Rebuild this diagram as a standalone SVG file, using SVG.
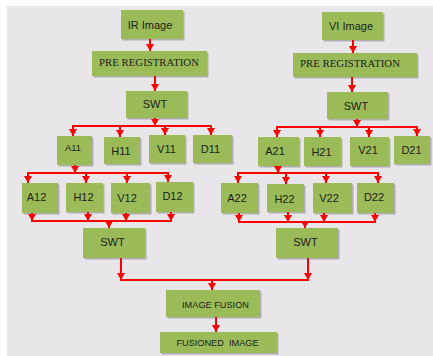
<svg xmlns="http://www.w3.org/2000/svg" width="433" height="356" viewBox="0 0 433 356">
<defs>
<style>
.bx{fill:#9bbb59;}
.sh{fill:#b0aeb2;}
.t{font-family:"Liberation Sans",Arial,sans-serif;font-size:11px;fill:#1c1c1c;text-anchor:middle;}
.s{font-size:9.5px;}
.f{font-size:9.2px;white-space:pre;}
.tr{font-family:"Liberation Serif","Times New Roman",serif;font-size:10.8px;fill:#1c1c1c;text-anchor:middle;}
.c line,.c path{stroke:#ff0000;stroke-width:2;fill:none;}
.a{marker-end:url(#ah);}
</style>
<marker id="ah" markerUnits="userSpaceOnUse" markerWidth="7" markerHeight="8" viewBox="0 0 7 8" refX="7" refY="4" orient="auto">
<path d="M0,0 L7,4 L0,8 Z" fill="#ff0000"/>
</marker>
</defs>
<rect x="7" y="6" width="426" height="350" fill="#e8e6e9"/>

<g id="ir"><rect class="sh" x="122.5" y="11.5" width="62" height="29"/><rect class="bx" x="121" y="10" width="62" height="29"/><text class="t" x="150" y="28.5">IR Image</text></g>
<g id="preL"><rect class="sh" x="93.5" y="52.5" width="115" height="25"/><rect class="bx" x="92" y="51" width="115" height="25"/><text class="tr" x="149" y="66">PRE REGISTRATION</text></g>
<g id="swtL1"><rect class="sh" x="127.5" y="92.5" width="61" height="27"/><rect class="bx" x="126" y="91" width="61" height="27"/><text class="t" x="155" y="108">SWT</text></g>

<g id="vi"><rect class="sh" x="323.5" y="13.5" width="61" height="28"/><rect class="bx" x="322" y="12" width="61" height="28"/><text class="t" x="351" y="30">VI Image</text></g>
<g id="preR"><rect class="sh" x="294.5" y="54.5" width="124" height="24"/><rect class="bx" x="293" y="53" width="124" height="24"/><text class="tr" x="350" y="67">PRE REGISTRATION</text></g>
<g id="swtR1"><rect class="sh" x="328.5" y="93.5" width="61" height="27"/><rect class="bx" x="327" y="92" width="61" height="27"/><text class="t" x="356" y="110">SWT</text></g>

<g id="a11"><rect class="sh" x="58.5" y="137.5" width="35" height="29"/><rect class="bx" x="57" y="136" width="35" height="29"/><text class="t s" x="73" y="151">A11</text></g>
<g id="h11"><rect class="sh" x="105.5" y="138.5" width="36" height="27"/><rect class="bx" x="104" y="137" width="36" height="27"/><text class="t" x="121" y="155">H11</text></g>
<g id="v11"><rect class="sh" x="150.5" y="136.5" width="36" height="28"/><rect class="bx" x="149" y="135" width="36" height="28"/><text class="t" x="166.5" y="153">V11</text></g>
<g id="d11"><rect class="sh" x="194.5" y="136.5" width="39" height="28"/><rect class="bx" x="193" y="135" width="39" height="28"/><text class="t" x="210.5" y="153">D11</text></g>

<g id="a12"><rect class="sh" x="23.5" y="184.5" width="36" height="30"/><rect class="bx" x="22" y="183" width="36" height="30"/><text class="t" x="36.5" y="201">A12</text></g>
<g id="h12"><rect class="sh" x="67.5" y="184.5" width="37" height="29"/><rect class="bx" x="66" y="183" width="37" height="29"/><text class="t" x="83.5" y="201">H12</text></g>
<g id="v12"><rect class="sh" x="112.5" y="184.5" width="39" height="30"/><rect class="bx" x="111" y="183" width="39" height="30"/><text class="t" x="127" y="202">V12</text></g>
<g id="d12"><rect class="sh" x="157.5" y="183.5" width="37" height="30"/><rect class="bx" x="156" y="182" width="37" height="30"/><text class="t" x="172.5" y="200">D12</text></g>

<g id="a21"><rect class="sh" x="259.5" y="138.5" width="41" height="29"/><rect class="bx" x="258" y="137" width="41" height="29"/><text class="t" x="275" y="155">A21</text></g>
<g id="h21"><rect class="sh" x="305.5" y="138.5" width="37" height="29"/><rect class="bx" x="304" y="137" width="37" height="29"/><text class="t" x="321.5" y="156">H21</text></g>
<g id="v21"><rect class="sh" x="351.5" y="138.5" width="39" height="29"/><rect class="bx" x="350" y="137" width="39" height="29"/><text class="t" x="368" y="154">V21</text></g>
<g id="d21"><rect class="sh" x="395.5" y="137.5" width="36" height="28"/><rect class="bx" x="394" y="136" width="36" height="28"/><text class="t" x="411.5" y="154">D21</text></g>

<g id="a22"><rect class="sh" x="222.5" y="184.5" width="37" height="30"/><rect class="bx" x="221" y="183" width="37" height="30"/><text class="t" x="237" y="202">A22</text></g>
<g id="h22"><rect class="sh" x="268.5" y="185.5" width="37" height="28"/><rect class="bx" x="267" y="184" width="37" height="28"/><text class="t" x="284.5" y="203">H22</text></g>
<g id="v22"><rect class="sh" x="314.5" y="184.5" width="39" height="30"/><rect class="bx" x="313" y="183" width="39" height="30"/><text class="t" x="329" y="202">V22</text></g>
<g id="d22"><rect class="sh" x="358.5" y="184.5" width="37" height="30"/><rect class="bx" x="357" y="183" width="37" height="30"/><text class="t" x="374" y="201">D22</text></g>

<g id="swtL2"><rect class="sh" x="84.5" y="229.5" width="62" height="30"/><rect class="bx" x="83" y="228" width="62" height="30"/><text class="t" x="112.5" y="246">SWT</text></g>
<g id="swtR2"><rect class="sh" x="277.5" y="229.5" width="62" height="30"/><rect class="bx" x="276" y="228" width="62" height="30"/><text class="t" x="305.5" y="246">SWT</text></g>

<g id="fusion"><rect class="sh" x="167.5" y="291.5" width="94" height="27"/><rect class="bx" x="166" y="290" width="94" height="27"/><text class="t f" x="215.5" y="308">IMAGE FUSION</text></g>
<g id="fused"><rect class="sh" x="161.5" y="333.5" width="117" height="21"/><rect class="bx" x="160" y="332" width="117" height="21"/><text class="t f" x="217.5" y="346">FUSIONED  IMAGE</text></g>

<g id="connectors" class="c">
<line class="a" x1="150" y1="39" x2="150" y2="51"/>
<line class="a" x1="155" y1="76" x2="155" y2="91"/>
<line class="a" x1="155" y1="118" x2="155" y2="126"/>
<line x1="72" y1="126" x2="212" y2="126"/>
<line class="a" x1="73" y1="126" x2="73" y2="136"/>
<line class="a" x1="120" y1="126" x2="120" y2="137"/>
<line class="a" x1="165" y1="126" x2="165" y2="135"/>
<line class="a" x1="211" y1="126" x2="211" y2="135"/>
<line class="a" x1="75" y1="165" x2="75" y2="173"/>
<line x1="27" y1="173" x2="169" y2="173"/>
<line class="a" x1="28" y1="173" x2="28" y2="183"/>
<line class="a" x1="86" y1="173" x2="86" y2="183"/>
<line class="a" x1="127" y1="173" x2="127" y2="183"/>
<line class="a" x1="168" y1="173" x2="168" y2="182"/>
<line class="a" x1="32" y1="213" x2="32" y2="221"/>
<line class="a" x1="88" y1="212" x2="88" y2="221"/>
<line class="a" x1="126" y1="213" x2="126" y2="221"/>
<line class="a" x1="171" y1="212" x2="171" y2="221"/>
<line x1="31" y1="221" x2="172" y2="221"/>
<line class="a" x1="109" y1="221" x2="109" y2="228"/>

<line class="a" x1="353" y1="40" x2="353" y2="53"/>
<line class="a" x1="352" y1="77" x2="352" y2="92"/>
<line class="a" x1="357" y1="119" x2="357" y2="127"/>
<line x1="276" y1="127" x2="418" y2="127"/>
<line class="a" x1="277" y1="127" x2="277" y2="137"/>
<line class="a" x1="320" y1="127" x2="320" y2="137"/>
<line class="a" x1="369" y1="127" x2="369" y2="137"/>
<line class="a" x1="417" y1="127" x2="417" y2="136"/>
<line class="a" x1="278" y1="166" x2="278" y2="173"/>
<line x1="237" y1="173" x2="379" y2="173"/>
<line class="a" x1="238" y1="173" x2="238" y2="183"/>
<line class="a" x1="286" y1="173" x2="286" y2="184"/>
<line class="a" x1="326" y1="173" x2="326" y2="183"/>
<line class="a" x1="378" y1="173" x2="378" y2="183"/>
<line class="a" x1="239" y1="213" x2="239" y2="222"/>
<line class="a" x1="288" y1="212" x2="288" y2="222"/>
<line class="a" x1="324" y1="213" x2="324" y2="222"/>
<line class="a" x1="375" y1="213" x2="375" y2="222"/>
<line x1="238" y1="222" x2="376" y2="222"/>
<line class="a" x1="305" y1="222" x2="305" y2="228"/>

<line class="a" x1="121" y1="258" x2="121" y2="280"/>
<line class="a" x1="308" y1="258" x2="308" y2="280"/>
<line x1="120" y1="280" x2="309" y2="280"/>
<line class="a" x1="212" y1="280" x2="212" y2="290"/>
<line class="a" x1="216" y1="317" x2="216" y2="332"/>
</g>
</svg>
